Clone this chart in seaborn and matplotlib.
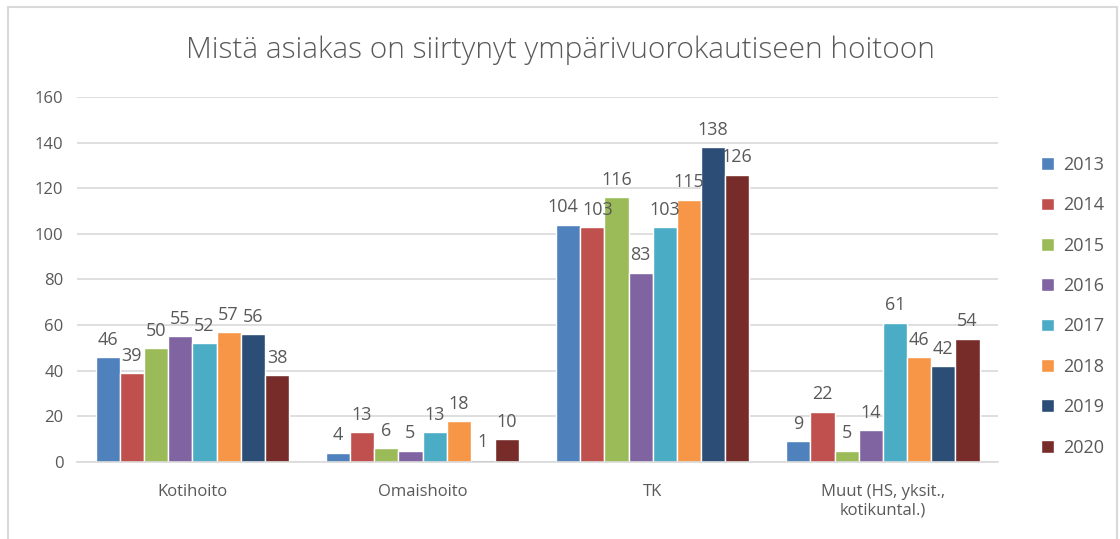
import pandas as pd
import matplotlib.pyplot as plt
import seaborn as sns
from matplotlib.patches import Rectangle

categories = ['Kotihoito', 'Omaishoito', 'TK', 'Muut (HS, yksit.,\nkotikuntal.)']
years = ['2013', '2014', '2015', '2016', '2017', '2018', '2019', '2020']
values = {
    '2013': [46, 4, 104, 9],
    '2014': [39, 13, 103, 22],
    '2015': [50, 6, 116, 5],
    '2016': [55, 5, 83, 14],
    '2017': [52, 13, 103, 61],
    '2018': [57, 18, 115, 46],
    '2019': [56, 1, 138, 42],
    '2020': [38, 10, 126, 54],
}
colors = ['#4F81BD', '#C0504D', '#9BBB59', '#8064A2',
          '#4BACC6', '#F79646', '#2C4D75', '#772C2A']

rows = []
for y in years:
    for c, v in zip(categories, values[y]):
        rows.append({'category': c, 'year': y, 'value': v})
df = pd.DataFrame(rows)

sns.set_style('white')
plt.rcParams['font.family'] = ['Open Sans', 'DejaVu Sans']
txt = '#595959'

fig = plt.figure(figsize=(11.2, 5.39), dpi=100)
ax = fig.add_axes([0.069, 0.143, 0.822, 0.677])

sns.barplot(data=df, x='category', y='value', hue='year', palette=colors,
            width=0.84, saturation=1, ax=ax, legend=True)

label_sets = []
for cont in ax.containers:
    label_sets.append(ax.bar_label(cont, fmt='%d', padding=6, fontsize=13, color=txt))

# the TK 2013/2014 labels touch in the original, push them apart a little
label_sets[0][2].xyann = (-4, 6)
label_sets[1][2].xyann = (4, 6)

ax.set_ylim(0, 160)
ax.set_yticks(range(0, 161, 20))
ax.set_xlim(-0.5, 3.5)
ax.yaxis.grid(True, color='#D9D9D9', linewidth=1.2)
ax.set_axisbelow(True)
for s in ['top', 'right', 'left']:
    ax.spines[s].set_visible(False)
ax.spines['bottom'].set_color('#D9D9D9')
ax.spines['bottom'].set_linewidth(1.2)
ax.tick_params(axis='both', length=0, labelsize=12, colors=txt, pad=10)
ax.tick_params(axis='x', pad=16)
ax.set_xlabel('')
ax.set_ylabel('')

handles, labels = ax.get_legend_handles_labels()
ax.legend_.remove()
fig.legend(handles, labels, loc='center left', bbox_to_anchor=(0.915, 0.432),
           frameon=False, fontsize=13, labelcolor=txt, handlelength=0.7,
           handleheight=0.7, handletextpad=0.5, labelspacing=1.24)

fig.suptitle('Mistä asiakas on siirtynyt ympärivuorokautiseen hoitoon',
             x=0.5, y=0.935, fontsize=21.5, color=txt, fontweight='light')

fig.patches.append(Rectangle((0.007, -0.1), 0.99, 1.087, transform=fig.transFigure,
                             fill=False, edgecolor='#D9D9D9', linewidth=1.5))

fig.savefig('out.png', dpi=100)
